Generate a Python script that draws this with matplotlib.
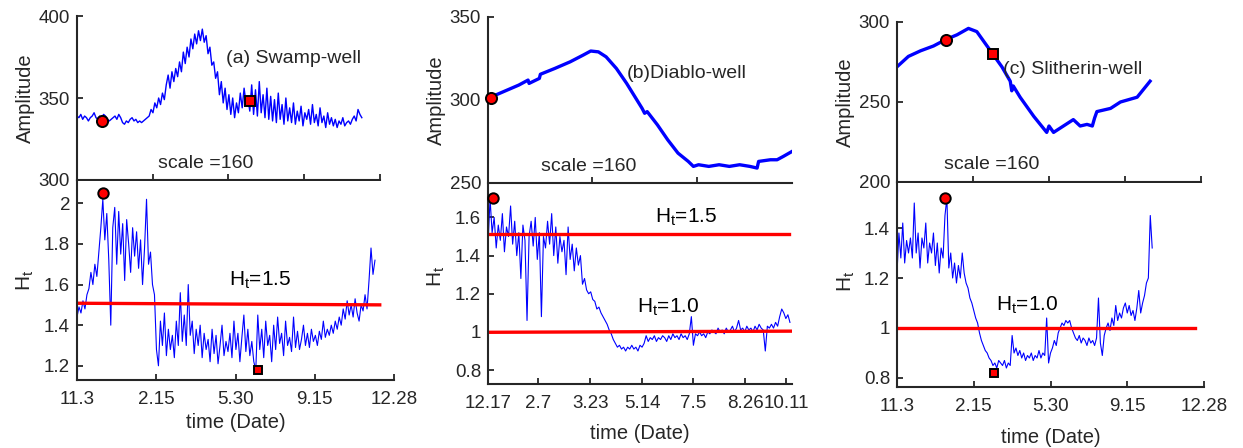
import matplotlib as mpl
mpl.use('Agg')
import matplotlib.pyplot as plt
import numpy as np

plt.rcParams['font.family'] = ['Liberation Sans', 'DejaVu Sans']
plt.rcParams['mathtext.fontset'] = 'custom'
plt.rcParams['mathtext.rm'] = 'Liberation Sans'
plt.rcParams['mathtext.it'] = 'Liberation Sans'

# ---- (a) Swamp-well ----
amp_swamp = [339, 338, 340, 337, 339, 338, 336, 338, 339, 341, 338, 337, 339, 338, 340, 339, 337, 336, 337,
             338, 339, 337, 340, 338, 335, 334, 336, 335, 337, 338, 336, 337, 335, 336, 335, 336, 337, 338,
             339, 343, 341, 347, 344, 350, 346, 353, 349, 358,
             364, 356, 366, 360, 368, 363, 372, 366, 378, 371,
             381, 375, 386, 380, 389, 383, 391, 385, 392, 384,
             388, 377, 381, 370, 372, 362, 366, 352, 360, 347,
             356, 343, 352, 340, 350, 338, 347, 341, 353, 344, 356, 347,
             350, 342, 358, 340, 355, 339, 360, 341, 352, 338, 356, 337,
             351, 336, 349, 335, 353, 337, 346, 334, 350, 336, 344, 335,
             347, 334, 342, 336, 345, 333, 341, 337, 343, 334, 346, 335,
             340, 333, 344, 335, 339, 332, 341, 334, 338, 333, 337, 332,
             336, 334, 338, 333, 335, 336, 334, 337, 339, 336, 343, 340, 338]
ht_swamp = [1.44, 1.49, 1.46, 1.52, 1.48, 1.55,
            1.58, 1.66, 1.60, 1.70, 1.64, 1.76,
            1.88, 2.02, 1.82,
            1.95, 1.72, 1.40, 1.88, 1.98,
            1.70, 1.96, 1.75, 1.90, 1.62, 1.92, 1.80, 1.66, 1.88, 1.74,
            1.86, 1.68, 1.82, 1.60, 1.78, 2.02, 1.70, 1.76, 1.60,
            1.55, 1.28, 1.20,
            1.42, 1.30, 1.46, 1.25, 1.38, 1.28, 1.35, 1.24, 1.42, 1.30, 1.56, 1.32,
            1.45, 1.30, 1.60, 1.35, 1.42, 1.26, 1.38, 1.30, 1.40, 1.24, 1.36, 1.28,
            1.33, 1.22, 1.38, 1.26, 1.35, 1.21, 1.30, 1.40, 1.25, 1.32, 1.27, 1.36,
            1.24, 1.42, 1.28, 1.36, 1.22, 1.34, 1.45, 1.27, 1.38, 1.25, 1.32, 1.22,
            1.18, 1.45, 1.28, 1.38, 1.24, 1.42, 1.30, 1.35, 1.22, 1.40, 1.28, 1.44,
            1.31, 1.36, 1.25, 1.42, 1.30, 1.34, 1.27, 1.44, 1.29, 1.37, 1.28, 1.33,
            1.40, 1.30, 1.36, 1.29, 1.38, 1.32, 1.35, 1.30, 1.37, 1.33, 1.42, 1.34,
            1.38, 1.35, 1.40, 1.36, 1.42, 1.38, 1.44, 1.40, 1.48, 1.43, 1.52, 1.45,
            1.50, 1.44, 1.53, 1.46, 1.42, 1.50, 1.47, 1.55, 1.48, 1.62, 1.78, 1.65, 1.72]
swamp_end = 3.76
swamp_amp_pts = [(0.33, 336), (2.28, 348)]
swamp_ht_pts = [(0.33, 2.05), (2.28, 1.18)]
swamp_ticks = ['11.3', '2.15', '5.30', '9.15', '12.28']

# ---- (b) Diablo-well ----
diablo_amp_x = [0.0, 0.3, 0.6, 0.78, 0.80, 1.0, 1.02, 1.3, 1.6, 1.85, 2.0, 2.15, 2.3, 2.5, 2.7, 2.9, 3.0, 3.05,
                3.1, 3.3, 3.5, 3.7, 3.9, 4.0, 4.1, 4.3, 4.5, 4.7, 4.9, 5.1, 5.24, 5.27, 5.5, 5.63, 5.75, 5.92]
diablo_amp = [301, 305, 309, 312, 310, 313, 315.5, 319, 323, 327, 329.5, 329, 326, 319, 310, 300, 295, 292,
              293, 285, 276, 268, 263, 260, 261, 260, 261, 260, 261, 260, 259, 263, 264, 264, 266, 269]
ht_diablo = [1.45, 1.70, 1.52, 1.60, 1.44, 1.56, 1.48, 1.62, 1.42, 1.55,
             1.50, 1.66, 1.46, 1.58, 1.40, 1.52, 1.28, 1.56, 1.48, 1.06,
             1.50, 1.58, 1.45, 1.60, 1.38, 1.52, 1.08, 1.50, 1.44, 1.58,
             1.46, 1.62, 1.40, 1.55, 1.36, 1.50, 1.42, 1.48, 1.30, 1.55,
             1.38, 1.46, 1.32, 1.44, 1.35, 1.40, 1.25, 1.28, 1.22, 1.20,
             1.21, 1.17, 1.16, 1.12, 1.13, 1.10, 1.08, 1.06, 1.04, 1.01,
             0.99, 0.96, 0.94, 0.92, 0.93, 0.91, 0.92, 0.90, 0.92, 0.91,
             0.93, 0.91, 0.92, 0.90, 0.93, 0.92, 0.94, 0.98, 0.95, 0.97,
             0.96, 0.98, 0.95, 0.97, 0.96, 0.98, 0.97, 0.95, 0.98, 0.96,
             0.99, 0.97, 0.98, 0.96, 0.99, 0.97, 0.98, 0.96, 0.99, 1.08,
             0.93, 0.99, 0.98, 1.00, 0.98, 0.99, 0.97, 1.00, 0.99, 1.01,
             1.00, 0.99, 1.02, 1.00, 1.01, 0.99, 1.02, 1.00, 1.01, 1.03,
             1.00, 1.02, 1.06, 1.01, 1.02, 1.00, 1.03, 1.01, 1.02, 1.00,
             1.03, 1.01, 1.04, 1.02, 1.01, 0.90, 1.03, 1.02, 1.04, 1.02,
             1.05, 1.03, 1.08, 1.12, 1.10, 1.07, 1.09, 1.05]
diablo_end = 5.88
diablo_amp_pts = [(0.05, 301)]
diablo_ht_pts = [(0.09, 1.70)]
diablo_tick_pos = [0, 0.97, 1.99, 3.0, 4.0, 5.01, 5.81]
diablo_ticks = ['12.17', '2.7', '3.23', '5.14', '7.5', '8.26', '10.11']

# ---- (c) Slitherin-well ----
slith_amp_x = [0.0, 0.15, 0.31, 0.48, 0.64, 0.79, 0.94, 1.05, 1.14, 1.26, 1.38, 1.49, 1.51, 1.53, 1.62,
               1.8, 1.97, 2.0, 2.06, 2.19, 2.32, 2.41, 2.5, 2.57, 2.6, 2.63, 2.81, 2.94, 3.16, 3.33]
slith_amp = [272, 278.5, 282, 285, 289, 292, 296, 294, 288, 280, 272, 263, 257, 260, 253,
             241, 231, 235, 231, 235, 239, 235, 236, 235, 240, 244, 246, 250, 253, 263]
ht_slith = [1.22, 1.38, 1.28, 1.42, 1.26, 1.35, 1.30, 1.36, 1.28, 1.50,
            1.30, 1.38, 1.24, 1.36, 1.32, 1.42, 1.26, 1.34, 1.30, 1.38,
            1.25, 1.34, 1.22, 1.32, 1.28, 1.45, 1.52, 1.24, 1.30, 1.20,
            1.26, 1.18, 1.25, 1.20, 1.30, 1.22, 1.18, 1.16, 1.12, 1.10,
            1.07, 1.04, 1.02, 0.98, 0.95, 0.93, 0.91, 0.90, 0.88, 0.87,
            0.85, 0.86, 0.84, 0.87, 0.86, 0.85, 0.87, 0.84, 0.86, 0.85,
            0.97, 0.90, 0.92, 0.89, 0.91, 0.88, 0.90, 0.87, 0.89, 0.88,
            0.90, 0.87, 0.89, 0.88, 0.91, 0.88, 0.90, 0.89, 1.04, 0.86,
            0.90, 0.92, 0.95, 0.93, 0.98, 1.00, 1.02, 1.01, 1.03, 1.02,
            1.03, 1.00, 0.98, 0.96, 0.95, 0.97, 0.94, 0.96, 0.95, 0.93,
            0.96, 0.94, 0.95, 0.93, 0.96, 1.12, 0.94, 0.89, 0.97, 1.00,
            1.02, 0.99, 1.04, 1.01, 1.09, 1.03, 1.06, 1.04, 1.08, 1.10,
            1.06, 1.09, 1.05, 1.07, 1.03, 1.08, 1.15, 1.06, 1.10, 1.13,
            1.18, 1.20, 1.45, 1.32]
slith_end = 3.325
slith_amp_pts = [(0.64, 289), (1.26, 280)]
slith_ht_pts = [(0.63, 1.52), (1.27, 0.82)]

W, H = 1243, 448
TXT = '#262626'
FS_TICK = 13.5
FS_LAB = 14.5
FS_TXT = 14


def box(l, t, r, b):
    return [l / W, 1 - b / H, (r - l) / W, (b - t) / H]


def style(ax):
    for s in ['top', 'right']:
        ax.spines[s].set_visible(False)
    for s in ['left', 'bottom']:
        ax.spines[s].set_linewidth(1.5)
        ax.spines[s].set_color(TXT)
    ax.tick_params(direction='in', length=4, width=1.3, colors=TXT, labelsize=FS_TICK)
    ax.tick_params(axis='x', pad=8)
    ax.tick_params(axis='y', pad=5)


def markers(ax, pts, ms):
    ax.plot(pts[0][0], pts[0][1], 'o', ms=ms, mfc='r', mec='k', mew=1.4, zorder=5, clip_on=False)
    if len(pts) > 1:
        ax.plot(pts[1][0], pts[1][1], 's', ms=ms - 1.5, mfc='r', mec='k', mew=1.4, zorder=5, clip_on=False)


fig = plt.figure(figsize=(W / 100, H / 100), dpi=100)
ht_label = r'$\mathregular{H_t}$'

# column (a)
ax = fig.add_axes(box(77, 16, 380, 180))
x = np.linspace(0, swamp_end, len(amp_swamp))
ax.plot(x, amp_swamp, color='b', lw=1.0)
markers(ax, swamp_amp_pts, 8)
ax.set_xlim(0, 4)
ax.set_ylim(300, 400)
ax.set_xticks([0, 1, 2, 3, 4])
ax.set_xticklabels([])
ax.set_yticks([300, 350, 400])
ax.text(2.86, 374, '(a) Swamp-well', ha='center', va='center', fontsize=FS_TXT, color=TXT)
ax.text(1.70, 310, 'scale =160', ha='center', va='center', fontsize=FS_TXT, color=TXT)
ax.set_ylabel('Amplitude', fontsize=FS_LAB, color=TXT)
ax.yaxis.set_label_coords(-0.138, 0.5)
style(ax)

ax = fig.add_axes(box(77, 181, 394, 380))
x = np.linspace(0, swamp_end, len(ht_swamp))
ax.plot(x, ht_swamp, color='b', lw=0.8)
ax.plot([0, 3.82], [1.508, 1.50], color='r', lw=2.4)
markers(ax, swamp_ht_pts, 7.5)
ax.set_xlim(0, 4)
ax.set_ylim(1.13, 2.11)
ax.set_xticks([0, 1, 2, 3, 4])
ax.set_xticklabels(swamp_ticks)
ax.set_yticks([1.2, 1.4, 1.6, 1.8, 2.0])
ax.set_yticklabels(['1.2', '1.4', '1.6', '1.8', '2'])
ax.text(2.31, 1.62, ht_label + '=1.5', ha='center', va='center', fontsize=15, color='k')
ax.set_ylabel(ht_label, fontsize=15, color=TXT)
ax.yaxis.set_label_coords(-0.128, 0.5)
ax.set_xlabel('time (Date)', fontsize=FS_LAB, color=TXT)
ax.xaxis.set_label_coords(0.5, -0.165)
style(ax)

# column (b)
ax = fig.add_axes(box(488, 17, 792, 183))
ax.plot(diablo_amp_x, diablo_amp, color='b', lw=2.4)
markers(ax, diablo_amp_pts, 8)
ax.set_xlim(0, 5.92)
ax.set_ylim(250, 350)
ax.set_xticks([0, 2.03, 4.07])
ax.set_xticklabels([])
ax.set_yticks([250, 300, 350])
ax.text(3.86, 316, '(b)Diablo-well', ha='center', va='center', fontsize=FS_TXT, color=TXT)
ax.text(1.97, 260, 'scale =160', ha='center', va='center', fontsize=FS_TXT, color=TXT)
ax.set_ylabel('Amplitude', fontsize=FS_LAB, color=TXT)
ax.yaxis.set_label_coords(-0.138, 0.5)
style(ax)

ax = fig.add_axes(box(488, 185, 792, 384))
x = np.linspace(0, diablo_end, len(ht_diablo))
ax.plot(x, ht_diablo, color='b', lw=0.8)
ax.plot([0, 5.87], [1.515, 1.515], color='r', lw=2.4)
ax.plot([0, 5.92], [0.998, 1.004], color='r', lw=2.4)
markers(ax, diablo_ht_pts, 7.5)
ax.set_xlim(0, 5.92)
ax.set_ylim(0.727, 1.77)
ax.set_xticks(diablo_tick_pos)
ax.set_xticklabels(diablo_ticks)
ax.set_yticks([0.8, 1.0, 1.2, 1.4, 1.6])
ax.set_yticklabels(['0.8', '1', '1.2', '1.4', '1.6'])
ax.text(3.86, 1.60, ht_label + '=1.5', ha='center', va='center', fontsize=15, color='k')
ax.text(3.51, 1.13, ht_label + '=1.0', ha='center', va='center', fontsize=15, color='k')
ax.set_ylabel(ht_label, fontsize=15, color=TXT)
ax.yaxis.set_label_coords(-0.135, 0.54)
ax.set_xlabel('time (Date)', fontsize=FS_LAB, color=TXT)
ax.xaxis.set_label_coords(0.5, -0.2)
style(ax)

# column (c)
ax = fig.add_axes(box(897, 22, 1201, 182))
ax.plot(slith_amp_x, slith_amp, color='b', lw=2.4)
markers(ax, slith_amp_pts, 8)
ax.set_xlim(0, 4)
ax.set_ylim(200, 300)
ax.set_xticks([0, 1, 2, 3, 4])
ax.set_xticklabels([])
ax.set_yticks([200, 250, 300])
ax.text(2.31, 270, '(c) Slitherin-well', ha='center', va='center', fontsize=FS_TXT, color=TXT)
ax.text(1.24, 211, 'scale =160', ha='center', va='center', fontsize=FS_TXT, color=TXT)
ax.set_ylabel('Amplitude', fontsize=FS_LAB, color=TXT)
ax.yaxis.set_label_coords(-0.138, 0.5)
style(ax)

ax = fig.add_axes(box(897, 183, 1204, 387))
x = np.linspace(0, slith_end, len(ht_slith))
ax.plot(x, ht_slith, color='b', lw=0.8)
ax.plot([0.03, 3.88], [1.0, 1.0], color='r', lw=2.4)
markers(ax, slith_ht_pts, 7.5)
ax.set_xlim(0, 4)
ax.set_ylim(0.764, 1.58)
ax.set_xticks([0, 1, 2, 3, 4])
ax.set_xticklabels(swamp_ticks)
ax.set_yticks([0.8, 1.0, 1.2, 1.4])
ax.set_yticklabels(['0.8', '1', '1.2', '1.4'])
ax.text(1.70, 1.09, ht_label + '=1.0', ha='center', va='center', fontsize=15, color='k')
ax.set_ylabel(ht_label, fontsize=15, color=TXT)
ax.yaxis.set_label_coords(-0.13, 0.52)
ax.set_xlabel('time (Date)', fontsize=FS_LAB, color=TXT)
ax.xaxis.set_label_coords(0.5, -0.2)
style(ax)

plt.savefig('out.png', dpi=100)
plt.close()
